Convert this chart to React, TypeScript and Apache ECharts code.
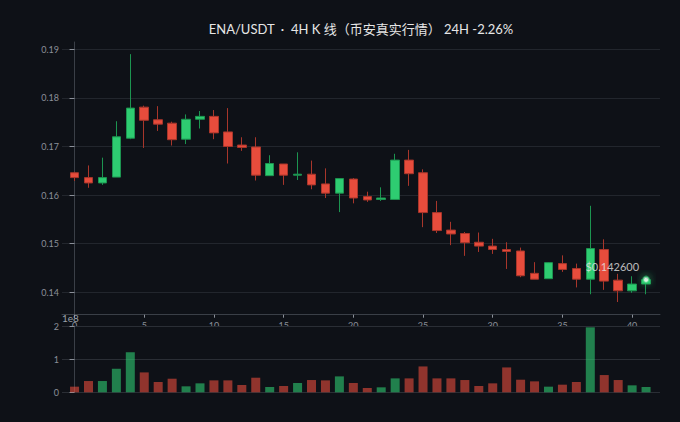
import React, { useEffect, useRef } from "react";
import * as echarts from "echarts";

const TITLE = "ENA/USDT  ·  4H K 线（币安真实行情） 24H -2.26%";

// candle index (x positions on the axis)
const candleIndex = [
  0, 1, 2, 3, 4, 5, 6, 7, 8, 9, 10, 11, 12, 13, 14, 15, 16, 17, 18, 19, 20,
  21, 22, 23, 24, 25, 26, 27, 28, 29, 30, 31, 32, 33, 34, 35, 36, 37, 38, 39,
  40, 41,
];

const openPrices = [
  0.1646, 0.1636, 0.1625, 0.1637, 0.1717, 0.1781, 0.1755, 0.1748, 0.1715,
  0.1756, 0.1762, 0.173, 0.1703, 0.1699, 0.164, 0.1664, 0.1641, 0.1643, 0.1623,
  0.1604, 0.1633, 0.1597, 0.1591, 0.1591, 0.1672, 0.1646, 0.1564, 0.1528,
  0.1521, 0.1503, 0.1495, 0.1488, 0.1485, 0.1439, 0.1428, 0.1459, 0.1449,
  0.1427, 0.1488, 0.1425, 0.1403, 0.1417,
];
const closePrices = [
  0.1636, 0.1625, 0.1636, 0.172, 0.1779, 0.1754, 0.1746, 0.1714, 0.1756,
  0.1762, 0.1728, 0.17, 0.1698, 0.1641, 0.1665, 0.1641, 0.1643, 0.1621, 0.1604,
  0.1634, 0.1594, 0.159, 0.1594, 0.1672, 0.1644, 0.1564, 0.1527, 0.152, 0.1502,
  0.1495, 0.1488, 0.1484, 0.1434, 0.1427, 0.1461, 0.1447, 0.1427, 0.149,
  0.1423, 0.1403, 0.1417, 0.1426,
];
const lowPrices = [
  0.1629, 0.1615, 0.1621, 0.1637, 0.1715, 0.1697, 0.1732, 0.1702, 0.1705,
  0.1737, 0.1715, 0.1665, 0.1691, 0.163, 0.164, 0.1621, 0.1631, 0.1612, 0.1594,
  0.1565, 0.1583, 0.1586, 0.1588, 0.1591, 0.1619, 0.1534, 0.1522, 0.1497,
  0.1475, 0.1483, 0.1479, 0.1448, 0.1431, 0.1427, 0.1428, 0.1442, 0.141,
  0.1396, 0.1405, 0.138, 0.1399, 0.1396,
];
const highPrices = [
  0.1648, 0.1661, 0.1677, 0.1752, 0.189, 0.1784, 0.1783, 0.1751, 0.1766,
  0.1773, 0.1775, 0.1779, 0.1719, 0.1719, 0.1682, 0.1664, 0.1688, 0.1671,
  0.1655, 0.1634, 0.1635, 0.1607, 0.1616, 0.1685, 0.1693, 0.1653, 0.1588,
  0.1545, 0.1524, 0.1523, 0.151, 0.1503, 0.1492, 0.1462, 0.1462, 0.1476,
  0.1459, 0.1578, 0.1509, 0.1438, 0.1433, 0.1431,
];
const volumes = [
  0.17e8, 0.34e8, 0.34e8, 0.71e8, 1.21e8, 0.6e8, 0.31e8, 0.41e8, 0.18e8,
  0.27e8, 0.36e8, 0.36e8, 0.22e8, 0.44e8, 0.16e8, 0.19e8, 0.28e8, 0.37e8,
  0.36e8, 0.48e8, 0.28e8, 0.13e8, 0.15e8, 0.42e8, 0.42e8, 0.78e8, 0.42e8,
  0.42e8, 0.37e8, 0.19e8, 0.27e8, 0.75e8, 0.38e8, 0.33e8, 0.17e8, 0.23e8,
  0.31e8, 1.96e8, 0.52e8, 0.37e8, 0.21e8, 0.16e8,
];

const BG = "#0e1117";
const UP = "#2ecc71";
const DOWN = "#e74c3c";
const UP_EDGE = "#1c9450";
const DOWN_EDGE = "#a8362b";
const GRID = "#22262d";
const AXIS = "#3a3f47";
const LABEL = "#8b9099";
const FONT = "Lato, 'Noto Sans CJK SC', sans-serif";

export default function App() {
  const ref = useRef<HTMLDivElement>(null);

  useEffect(() => {
    if (!ref.current) return;
    const chart = echarts.init(ref.current, undefined, { renderer: "svg" });

    const candles = candleIndex.map((x, i) => [
      x,
      openPrices[i],
      closePrices[i],
      lowPrices[i],
      highPrices[i],
    ]);
    const volData = candleIndex.map((x, i) => ({
      value: [x, volumes[i]],
      itemStyle: {
        color: closePrices[i] >= openPrices[i] ? UP : DOWN,
        opacity: 0.6,
      },
    }));
    const lastIdx = candleIndex.length - 1;
    const lastClose = closePrices[lastIdx];

    const option: any = {
      animation: false,
      backgroundColor: BG,
      textStyle: { fontFamily: FONT },
      title: {
        text: TITLE,
        left: 356,
        textAlign: "center",
        top: 17,
        textStyle: {
          color: "#e6e6e6",
          fontSize: 13,
          fontWeight: "normal",
          fontFamily: FONT,
        },
      },
      grid: [
        { left: 62, right: 20, top: 42, height: 272.7 },
        { left: 62, right: 20, top: 326, height: 66.3 },
      ],
      xAxis: [
        {
          type: "value",
          gridIndex: 0,
          min: -0.9,
          max: 42,
          splitNumber: 8,
          axisLine: { show: true, lineStyle: { color: AXIS } },
          axisTick: { show: true, length: 3, lineStyle: { color: LABEL } },
          axisLabel: {
            color: LABEL,
            fontSize: 9,
            margin: 6,
            showMinLabel: false,
            showMaxLabel: false,
            fontFamily: FONT,
          },
          splitLine: { show: false },
          z: 0,
        },
        {
          type: "value",
          gridIndex: 1,
          min: -0.9,
          max: 42,
          axisLine: { show: false },
          axisTick: { show: false },
          axisLabel: { show: false },
          splitLine: { show: false },
          z: 1,
        },
      ],
      yAxis: [
        {
          type: "value",
          gridIndex: 0,
          min: 0.13539,
          max: 0.1915,
          splitNumber: 5,
          scale: true,
          axisLine: { show: true, lineStyle: { color: AXIS } },
          axisTick: { show: true, length: 5, lineStyle: { color: LABEL } },
          axisLabel: {
            color: LABEL,
            fontSize: 9,
            margin: 3,
            showMinLabel: false,
            showMaxLabel: false,
            fontFamily: FONT,
            formatter: (v: number) => v.toFixed(2),
          },
          splitLine: {
            show: true,
            showMinLine: false,
            showMaxLine: false,
            lineStyle: { color: GRID },
          },
        },
        {
          type: "value",
          gridIndex: 1,
          min: 0,
          max: 2e8,
          interval: 1e8,
          z: 1,
          axisLine: { show: true, lineStyle: { color: AXIS } },
          axisTick: { show: true, length: 5, lineStyle: { color: LABEL } },
          axisLabel: {
            color: LABEL,
            fontSize: 9,
            margin: 3,
            fontFamily: FONT,
            formatter: (v: number) => String(Math.round(v / 1e8)),
          },
          splitLine: { show: true, lineStyle: { color: "#2a2e35" } },
        },
      ],
      graphic: [
        {
          type: "rect",
          z: 0.5,
          silent: true,
          shape: { x: 0, y: 326, width: 680, height: 96 },
          style: { fill: BG },
        },
        {
          type: "text",
          z: 10,
          left: 62,
          top: 313,
          style: {
            text: "1e8",
            fill: "#9aa0a8",
            fontSize: 10,
            fontFamily: FONT,
          },
        },
      ],
      series: [
        {
          type: "candlestick",
          xAxisIndex: 0,
          yAxisIndex: 0,
          data: candles,
          encode: { x: 0, y: [1, 2, 3, 4] },
          barWidth: 9,
          itemStyle: {
            color: UP,
            color0: DOWN,
            borderColor: UP_EDGE,
            borderColor0: DOWN_EDGE,
            borderWidth: 1,
          },
        },
        {
          type: "bar",
          xAxisIndex: 1,
          yAxisIndex: 1,
          data: volData,
          barWidth: 9,
        },
        {
          type: "scatter",
          xAxisIndex: 0,
          yAxisIndex: 0,
          z: 5,
          data: [[candleIndex[lastIdx], lastClose]],
          symbol: "circle",
          symbolSize: 6,
          itemStyle: {
            color: "#ffffff",
            borderColor: "rgba(46,204,113,0.75)",
            borderWidth: 2,
            shadowBlur: 8,
            shadowColor: UP,
          },
          label: {
            show: true,
            position: "left",
            distance: 3,
            offset: [0, -13],
            formatter: () => "$" + lastClose.toFixed(6),
            color: "#e6e6e6",
            fontSize: 11,
            fontFamily: FONT,
          },
        },
      ],
    };

    chart.setOption(option);
    return () => chart.dispose();
  }, []);

  return (
    <div
      ref={ref}
      style={{ position: "fixed", left: 0, top: 0, width: 680, height: 422 }}
    />
  );
}
